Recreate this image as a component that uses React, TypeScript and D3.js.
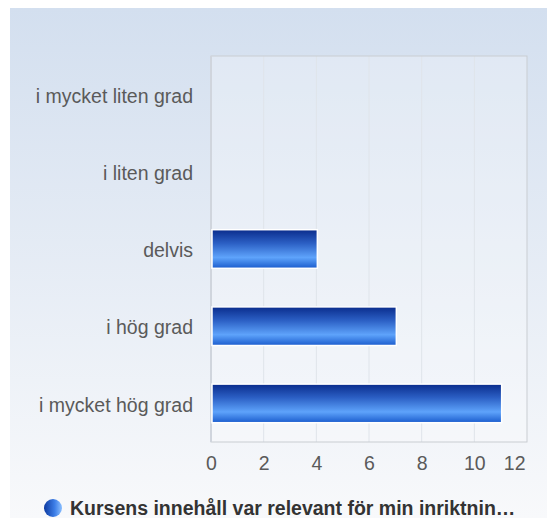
import React, { useRef, useEffect } from 'react';
import * as d3 from 'd3';

const categories = ['i mycket liten grad', 'i liten grad', 'delvis', 'i hög grad', 'i mycket hög grad'];
const values = [0, 0, 4, 7, 11];
const xTicks = [0, 2, 4, 6, 8, 10, 12];
const legendLabel = 'Kursens innehåll var relevant för min inriktnin…';

const W = 547;
const H = 518;

const App = () => {
  const svgRef = useRef<SVGSVGElement>(null);

  useEffect(() => {
    const svg = d3.select(svgRef.current);
    svg.selectAll('*').remove();

    const font = 'Liberation Sans, Arial, sans-serif';
    const margin = { top: 56, right: 20, bottom: 76, left: 211 };
    const innerW = W - margin.left - margin.right;
    const innerH = H - margin.top - margin.bottom;

    const defs = svg.append('defs');
    const bg = defs.append('linearGradient').attr('id', 'bg').attr('x1', 0).attr('y1', 0).attr('x2', 0).attr('y2', 1);
    bg.append('stop').attr('offset', '0%').attr('stop-color', '#d3dfef');
    bg.append('stop').attr('offset', '100%').attr('stop-color', '#f8f9fb');

    const barGrad = defs.append('linearGradient').attr('id', 'bar').attr('x1', 0).attr('y1', 0).attr('x2', 0).attr('y2', 1);
    barGrad.append('stop').attr('offset', '0%').attr('stop-color', '#0a2c8c');
    barGrad.append('stop').attr('offset', '35%').attr('stop-color', '#2b5fc4');
    barGrad.append('stop').attr('offset', '72%').attr('stop-color', '#5ea3fb');
    barGrad.append('stop').attr('offset', '100%').attr('stop-color', '#1a5ccd');

    const dot = defs.append('linearGradient').attr('id', 'dot').attr('x1', 0).attr('y1', 0).attr('x2', 1).attr('y2', 0);
    dot.append('stop').attr('offset', '0%').attr('stop-color', '#0d3aa0');
    dot.append('stop').attr('offset', '60%').attr('stop-color', '#3d7fe8');
    dot.append('stop').attr('offset', '100%').attr('stop-color', '#8cc0ff');

    // background panel
    svg.append('rect')
      .attr('x', 10).attr('y', 8)
      .attr('width', W - 10).attr('height', H - 8)
      .attr('fill', 'url(#bg)');

    const x = d3.scaleLinear().domain([0, 12]).range([0, innerW]);
    const y = d3.scaleBand().domain(categories).range([0, innerH])
      .paddingInner(0.5).paddingOuter(0.25);

    const g = svg.append('g').attr('transform', `translate(${margin.left},${margin.top})`);

    g.append('rect')
      .attr('width', innerW).attr('height', innerH)
      .attr('fill', 'rgba(255,255,255,0.25)');

    g.selectAll('.grid')
      .data(xTicks.slice(1, -1))
      .enter().append('line')
      .attr('x1', d => x(d)).attr('x2', d => x(d))
      .attr('y1', 0).attr('y2', innerH)
      .attr('stroke', '#dfe4ea').attr('stroke-width', 1);

    g.append('rect')
      .attr('width', innerW).attr('height', innerH)
      .attr('fill', 'none').attr('stroke', '#c9cdd2').attr('stroke-width', 1);

    // left axis line, a bit heavier
    g.append('line')
      .attr('x1', 0).attr('x2', 0).attr('y1', 0).attr('y2', innerH)
      .attr('stroke', '#d0d5dd').attr('stroke-width', 2);

    const rows = categories.map((c, i) => ({ c, v: values[i] })).filter(d => d.v > 0);

    g.selectAll('.bar')
      .data(rows)
      .enter().append('rect')
      .attr('x', x(0) + 1)
      .attr('y', d => y(d.c) as number)
      .attr('width', d => x(d.v) - x(0))
      .attr('height', y.bandwidth())
      .attr('fill', 'url(#bar)')
      .attr('stroke', '#ffffff').attr('stroke-width', 1.5);

    const yAxis = d3.axisLeft(y).tickSize(0).tickPadding(18);
    g.append('g').call(yAxis)
      .call(s => s.select('.domain').remove())
      .selectAll('text')
      .attr('font-family', font).attr('font-size', 19.5).attr('fill', '#5a5a5a')
      .attr('dy', '0.42em');

    const xAxis = d3.axisBottom(x).tickValues(xTicks).tickSize(0).tickPadding(14).tickFormat(d3.format('d'));
    g.append('g').attr('transform', `translate(0,${innerH})`).call(xAxis)
      .call(s => s.select('.domain').remove())
      .selectAll('text')
      .attr('font-family', font).attr('font-size', 19.5).attr('fill', '#5a5a5a')
      .attr('text-anchor', d => (d === 12 ? 'end' : 'middle'))
      .attr('dx', d => (d === 12 ? -2 : 0));

    const legend = svg.append('g').attr('transform', 'translate(53,508)');
    legend.append('circle').attr('r', 9).attr('fill', 'url(#dot)');
    legend.append('text')
      .attr('x', 17).attr('y', 7)
      .attr('font-family', font).attr('font-size', 19.5).attr('font-weight', 'bold')
      .attr('fill', '#333')
      .text(legendLabel);
  }, []);

  return (
    <svg ref={svgRef} width={W} height={H} style={{ position: 'absolute', left: 0, top: 0 }} />
  );
};

export default App;
